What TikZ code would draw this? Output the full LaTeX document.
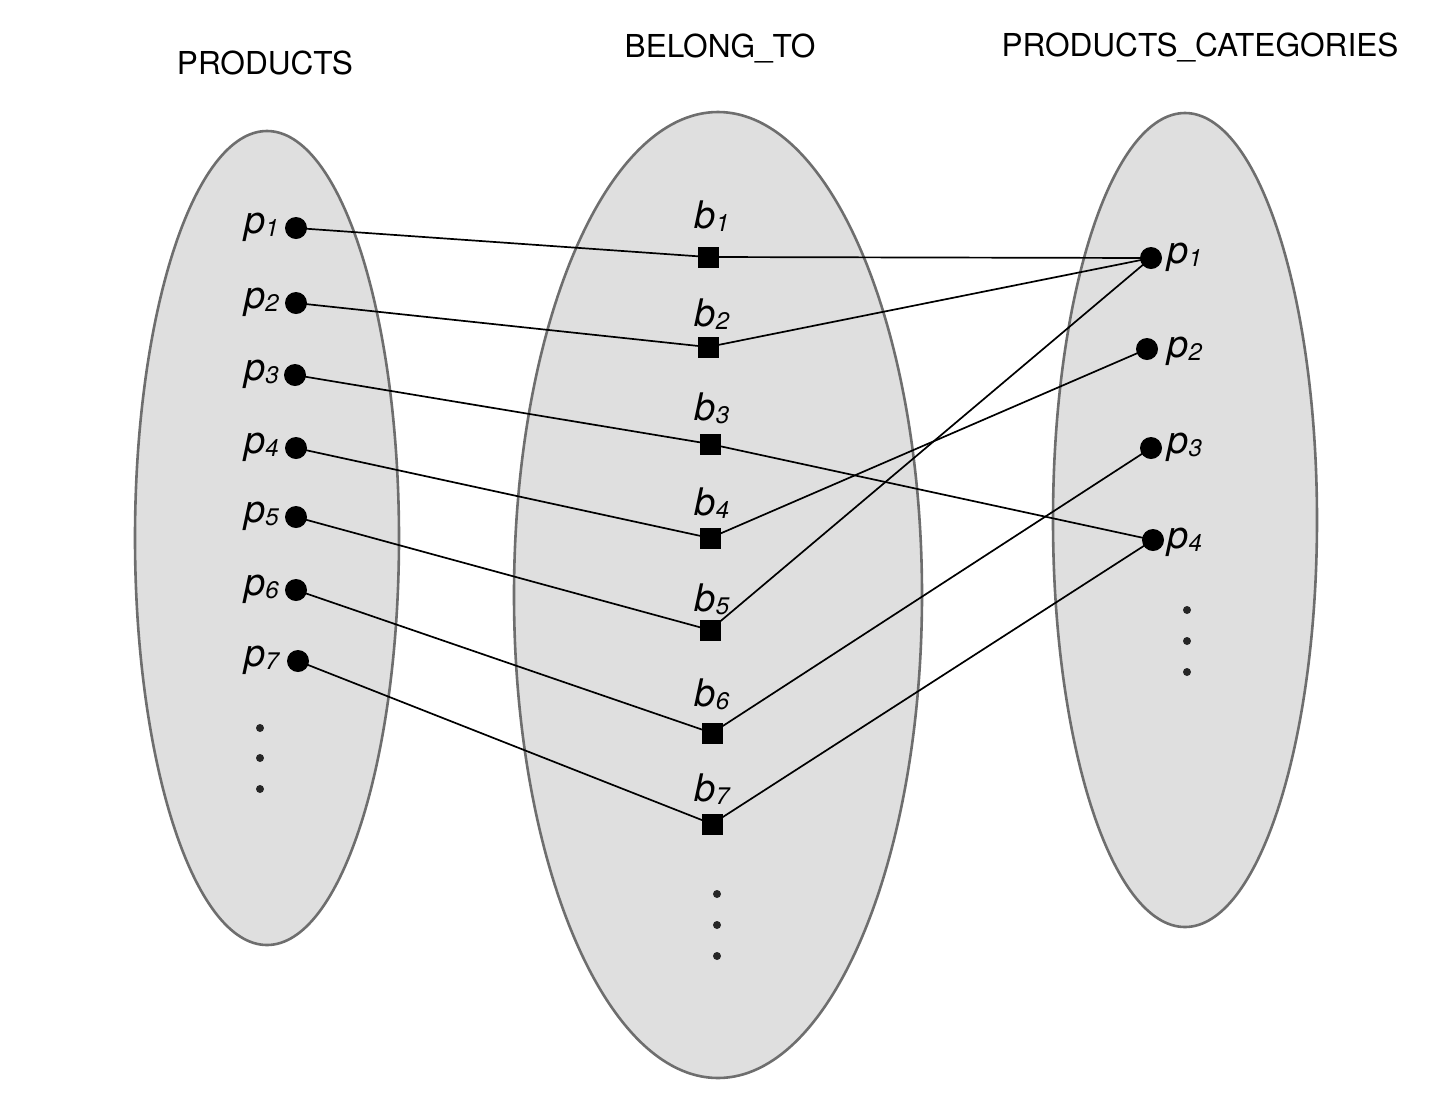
\documentclass[tikz,border=0pt]{standalone}
\usepackage{fontspec}
\setmainfont{TeX Gyre Heros}
\definecolor{ellfill}{HTML}{DFDFDF}
\definecolor{elldraw}{HTML}{6E6E6E}
\newcommand{\lbl}[2]{{\fontsize{19pt}{21pt}\selectfont\itshape #1}\raisebox{-1.5pt}{\fontsize{12pt}{13pt}\selectfont\itshape #2}}
\begin{document}
\begin{tikzpicture}[x=0.5pt,y=-0.5pt,
  ell/.style={fill=ellfill,draw=elldraw,line width=1.3pt},
  pdot/.style={circle,fill=black,inner sep=0pt,minimum size=11pt},
  bsq/.style={rectangle,fill=black,inner sep=0pt,minimum size=10.5pt},
  edot/.style={circle,fill=black!85,inner sep=0pt,minimum size=4pt},
  conn/.style={line width=0.85pt},
  title/.style={inner sep=0pt,font=\fontsize{15.8pt}{18pt}\selectfont},
  lab/.style={inner sep=0pt}]
\useasboundingbox (0,0) rectangle (1442,1105);
% ellipses
\path[ell] (267,538) ellipse [x radius=66pt, y radius=203.5pt];
\path[ell] (718,595) ellipse [x radius=102pt, y radius=241.5pt];
\path[ell] (1185,520) ellipse [x radius=66pt, y radius=203.5pt];
% titles
\node[title,anchor=base] (t1) at (265,74) {PRODUCTS};
\node[title,anchor=base] (t2) at (720,57) {BELONG\_TO};
\node[title,anchor=base] (t3) at (1200,56) {PRODUCTS\_CATEGORIES};
% left dots
\node[pdot] (lp1) at (296,228) {};
\node[pdot] (lp2) at (296,303) {};
\node[pdot] (lp3) at (295,375) {};
\node[pdot] (lp4) at (296,448) {};
\node[pdot] (lp5) at (296,517) {};
\node[pdot] (lp6) at (296,590) {};
\node[pdot] (lp7) at (298,661) {};
\foreach \i/\y in {1/228,2/303,3/375,4/448,5/517,6/590,7/661}{
  \node[lab,anchor=base east] (llab\i) at (279,\y+5) {\lbl{p}{\i}};
}
\node[edot] (le1) at (260,728) {};
\node[edot] (le2) at (260,758) {};
\node[edot] (le3) at (260,789) {};
% middle squares
\node[bsq] (b1) at (708,257) {};
\node[bsq] (b2) at (708,347) {};
\node[bsq] (b3) at (710,444) {};
\node[bsq] (b4) at (710,538) {};
\node[bsq] (b5) at (710,630) {};
\node[bsq] (b6) at (712,733) {};
\node[bsq] (b7) at (712,824) {};
\foreach \i/\x/\y in {1/712/228,2/712/326,3/712/420,4/712/515,5/712/611,6/712/706,7/712/801}{
  \node[lab,anchor=base] (blab\i) at (\x,\y) {\lbl{b}{\i}};
}
\node[edot] (me1) at (717,894) {};
\node[edot] (me2) at (717,925) {};
\node[edot] (me3) at (717,956) {};
% right dots
\node[pdot] (rp1) at (1151,258) {};
\node[pdot] (rp2) at (1147,349) {};
\node[pdot] (rp3) at (1151,448) {};
\node[pdot] (rp4) at (1153,540) {};
\foreach \i/\x/\y in {1/1167/263,2/1167/357,3/1167/453,4/1167/548}{
  \node[lab,anchor=base west] (rlab\i) at (\x,\y) {\lbl{p}{\i}};
}
\node[edot] (re1) at (1187,610) {};
\node[edot] (re2) at (1187,641) {};
\node[edot] (re3) at (1187,672) {};
% connectors
\foreach \i in {1,...,7}{
  \draw[conn] (lp\i.center) -- (b\i.center);
}
\draw[conn] (b1.center) -- (rp1.center);
\draw[conn] (b2.center) -- (rp1.center);
\draw[conn] (b3.center) -- (rp4.center);
\draw[conn] (b4.center) -- (rp2.center);
\draw[conn] (b5.center) -- (rp1.center);
\draw[conn] (b6.center) -- (rp3.center);
\draw[conn] (b7.center) -- (rp4.center);
\end{tikzpicture}
\end{document}
